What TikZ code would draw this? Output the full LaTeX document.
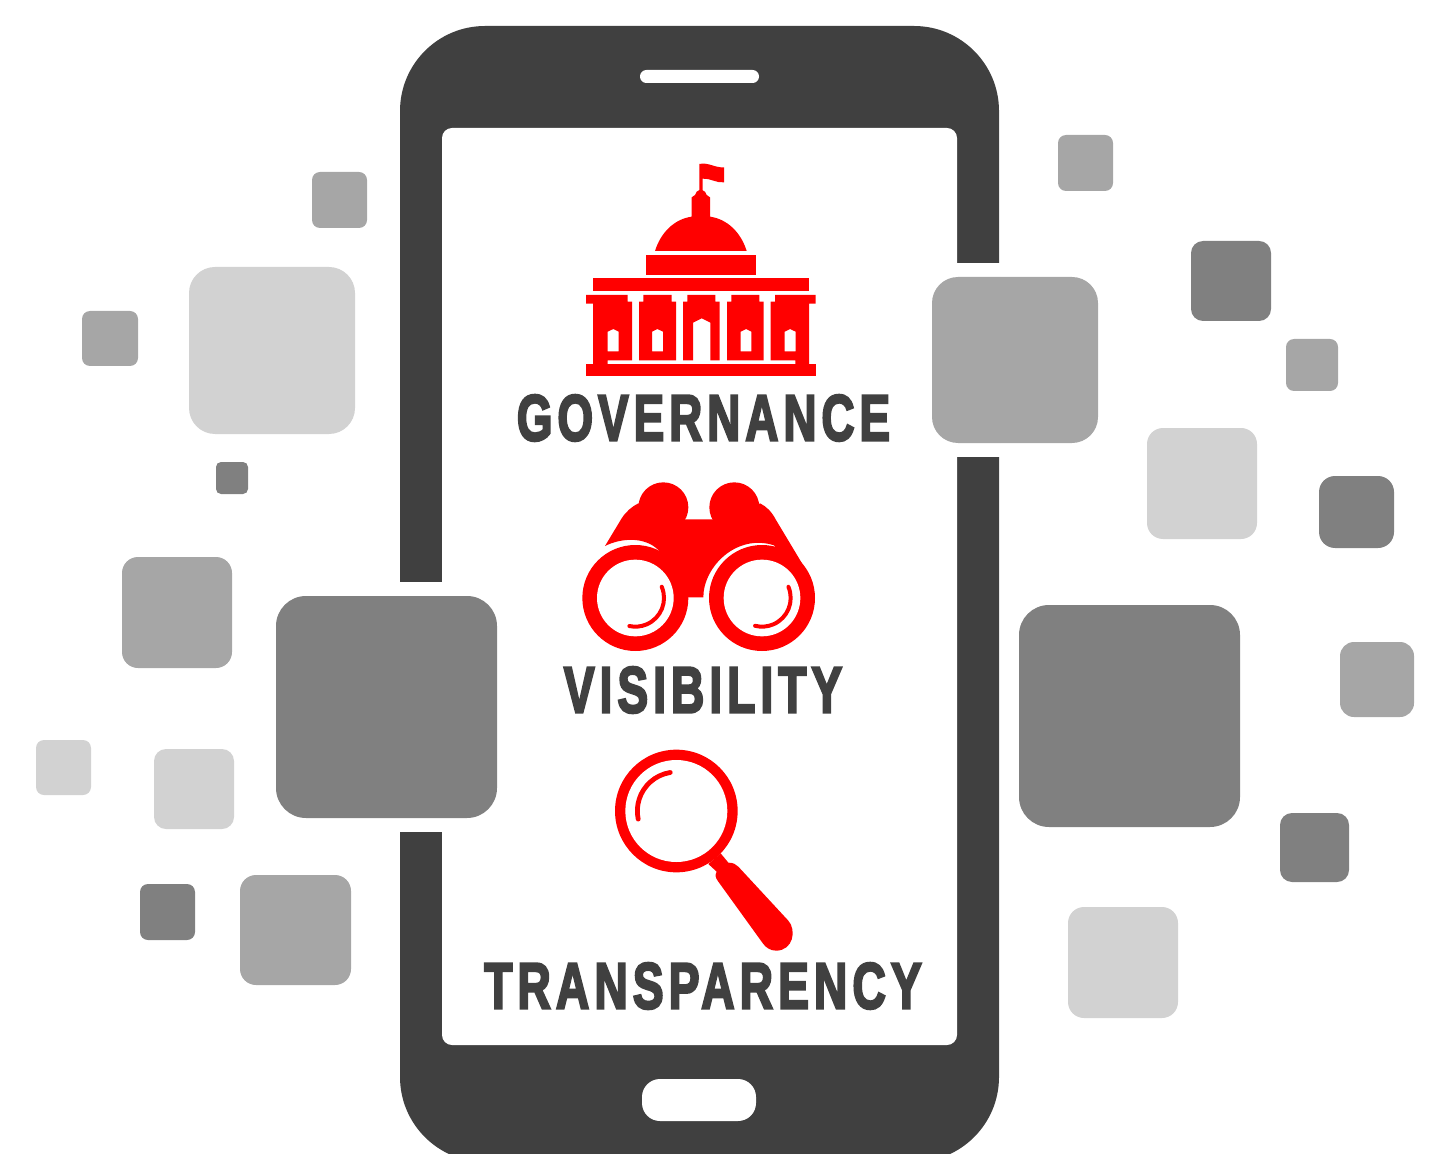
\documentclass[tikz,border=0pt]{standalone}
\usepackage{fontspec}
\setmainfont{Liberation Sans}
\newfontfamily\capfont[BoldFont=*,LetterSpace=11,FakeBold=4]{Liberation Sans Bold}
\definecolor{phonegray}{HTML}{404040}
\definecolor{sqdark}{HTML}{808080}
\definecolor{sqmid}{HTML}{A6A6A6}
\definecolor{sqlight}{HTML}{D2D2D2}
\definecolor{iconred}{HTML}{FF0000}
\newcommand{\appsq}[6]{\fill[#5,rounded corners=#6pt] (#1,#2) rectangle (#3,#4);}
\tikzset{
  iconfill/.style={fill=iconred},
  shine/.style={draw=iconred,line cap=round},
  caption/.style={font=\capfont\fontsize{32.5}{32.5}\selectfont,text=phonegray,inner sep=0pt,anchor=center}
}
\begin{document}
\begin{tikzpicture}[x=0.5pt,y=-0.5pt]
\useasboundingbox (0,0) rectangle (1443,1154);
\clip (0,0) rectangle (1443,1154);
% phone
\fill[phonegray,rounded corners=42.5pt] (400,26) rectangle (999,1162);
\fill[white,rounded corners=5pt] (442,128) rectangle (957,1045);
\fill[white,rounded corners=3.2pt] (640,70) rectangle (759,83);
\fill[white,rounded corners=9pt] (642,1079) rectangle (756,1121);
% gaps
\fill[white] (950,263) rectangle (1001,457);
\fill[white] (398,582) rectangle (450,832);
% squares left
\appsq{312}{172}{367}{228}{sqmid}{4}
\appsq{189}{267}{355}{434}{sqlight}{13}
\appsq{82}{311}{138}{366}{sqmid}{4}
\appsq{216}{462}{248}{494}{sqdark}{2.5}
\appsq{122}{557}{232}{668}{sqmid}{8}
\appsq{276}{596}{497}{818}{sqdark}{15}
\appsq{36}{740}{91}{795}{sqlight}{4}
\appsq{154}{749}{234}{829}{sqlight}{6}
\appsq{140}{884}{195}{940}{sqdark}{4}
\appsq{240}{875}{351}{985}{sqmid}{8}
% squares right
\appsq{1058}{135}{1113}{191}{sqmid}{4}
\appsq{1191}{241}{1271}{321}{sqdark}{6}
\appsq{1286}{339}{1338}{391}{sqmid}{4}
\appsq{932}{277}{1098}{443}{sqmid}{13}
\appsq{1147}{428}{1257}{539}{sqlight}{8}
\appsq{1319}{476}{1394}{548}{sqdark}{8}
\appsq{1019}{605}{1240}{827}{sqdark}{15}
\appsq{1340}{642}{1414}{717}{sqmid}{7}
\appsq{1280}{813}{1349}{882}{sqdark}{6}
\appsq{1068}{907}{1178}{1018}{sqlight}{8}
% capitol
\begin{scope}[shift={(570,150)},scale=0.33333]
\fill[iconfill] (388,42) .. controls (415,36) and (435,54) .. (462,52) -- (462,97) .. controls (440,100) and (420,84) .. (398,86) -- (398,125) -- (388,125) -- cycle;
\fill[iconfill] (365,200) -- (365,142) -- (375,135) -- (380,125) -- (392,118) -- (405,125) -- (410,135) -- (420,142) -- (420,200) .. controls (470,207) and (512,245) .. (530,303) -- (255,303) .. controls (273,245) and (315,207) .. (365,200) -- cycle;
\fill[iconfill] (228,315) rectangle (558,375);
\fill[iconfill] (69,384) rectangle (717,423);
\fill[iconfill] (48,641) rectangle (737,677);
\fill[iconfill,even odd rule] (48,435) -- (173,435) -- (173,455) -- (186,455) -- (186,631) -- (113,631) -- (113,645) -- (69,645) -- (69,461) -- (48,461) -- cycle
  (113,545) -- (130,537) -- (146,545) -- (146,604) -- (113,604) -- cycle;
\fill[iconfill,even odd rule] (220,435) -- (305,435) -- (305,455) -- (318,455) -- (318,631) -- (207,631) -- (207,455) -- (220,455) -- cycle
  (246,545) -- (262,537) -- (279,545) -- (279,604) -- (246,604) -- cycle;
\fill[iconfill] (352,435) -- (436,435) -- (436,455) -- (449,455) -- (449,631) -- (421,631) -- (421,518) -- (395,505) -- (369,518) -- (369,631) -- (339,631) -- (339,455) -- (352,455) -- cycle;
\fill[iconfill,even odd rule] (484,435) -- (568,435) -- (568,455) -- (581,455) -- (581,631) -- (471,631) -- (471,455) -- (484,455) -- cycle
  (512,545) -- (528,537) -- (544,545) -- (544,604) -- (512,604) -- cycle;
\fill[iconfill,even odd rule] (615,435) -- (737,435) -- (737,461) -- (717,461) -- (717,645) -- (676,645) -- (676,631) -- (602,631) -- (602,455) -- (615,455) -- cycle
  (644,545) -- (660,537) -- (677,545) -- (677,604) -- (644,604) -- cycle;
\end{scope}
% binoculars
\begin{scope}[shift={(570,470)},scale=0.33333]
\fill[iconfill] (280,112) circle[radius=75];
\fill[iconfill] (493,112) circle[radius=75];
\fill[iconfill] (105,228) .. controls (155,203) and (225,200) .. (265,240) -- (355,382) -- (400,382)
  .. controls (400,290) and (500,190) .. (612,226) -- (640,260) -- (720,384) -- (705,295) -- (618,150)
  .. controls (605,125) and (590,110) .. (570,100) -- (500,148) -- (422,148) -- (350,148) -- (280,148) -- (205,100)
  .. controls (185,110) and (168,125) .. (155,145) -- cycle;
\fill[iconfill] (196,384) circle[radius=159];
\fill[iconfill] (576,384) circle[radius=159];
\fill[white] (196,384) circle[radius=115];
\fill[white] (576,384) circle[radius=115];
\draw[shine,line width=2pt] (196,384) ++(-23:86) arc[start angle=-23,end angle=102,radius=86];
\draw[shine,line width=2pt] (576,384) ++(-23:86) arc[start angle=-23,end angle=104,radius=86];
\end{scope}
% magnifier
\begin{scope}[shift={(600,740)},scale=0.33333]
\fill[iconfill] (362,340) -- (385,368) .. controls (398,368) and (408,372) .. (415,380) -- (565,542)
  .. controls (590,570) and (580,632) .. (528,632) .. controls (510,632) and (498,622) .. (490,612)
  -- (355,425) .. controls (345,412) and (345,405) .. (350,395) -- (325,372) -- cycle;
\fill[iconfill] (229,213) circle[radius=184];
\fill[white] (229,213) circle[radius=153];
\draw[shine,line width=2.4pt] (229,213) ++(168:117) arc[start angle=168,end angle=261,radius=117];
\end{scope}
% captions
\node[caption,xscale=0.704] (gov) at (703.5,418) {GOVERNANCE};
\node[caption,xscale=0.708] (vis) at (703,690) {VISIBILITY};
\node[caption,xscale=0.711] (tra) at (703,986) {TRANSPARENCY};
\end{tikzpicture}
\end{document}
